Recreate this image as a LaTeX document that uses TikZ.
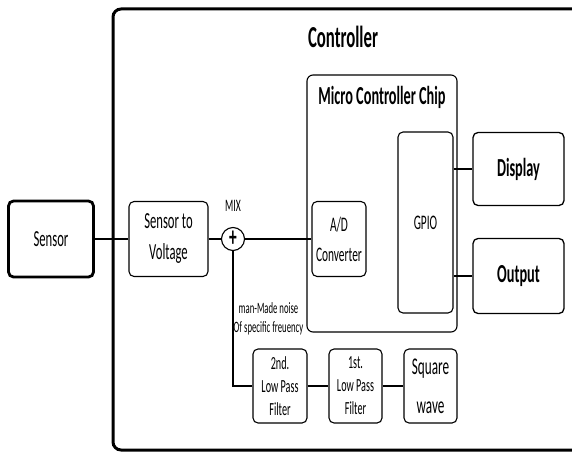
\documentclass[tikz,border=0pt]{standalone}
\usepackage{fontspec}
\setmainfont[FakeStretch=0.55]{Carlito}
\newcommand\fsz[2]{\fontsize{#1pt}{#2pt}\selectfont}
\begin{document}
\begin{tikzpicture}[x=1pt,y=-1pt,
  box/.style={draw, rounded corners=5pt, line width=1.1pt, align=center, inner sep=0pt},
  link/.style={line width=1.1pt}]
\useasboundingbox (0,0) rectangle (572,452);
\fill[white] (0,0) rectangle (572,452);
% outer controller frame (extends past the right edge)
\draw[line width=3pt, rounded corners=8pt] (113,9) rectangle (640,450);
\node[font=\bfseries\fsz{30.5}{30}] (ctl) at (343,37) {Controller};

\node[box, line width=2.8pt, minimum width=85pt, minimum height=76pt, font=\fsz{23}{30}] (sensor) at (51,239) {Sensor};
\node[box, minimum width=79pt, minimum height=75pt, font=\fsz{23}{31}] (stv) at (168.5,239) {Sensor to\\Voltage};
\node[circle, draw, line width=1.1pt, minimum size=23pt, inner sep=0pt, font=\bfseries\fsz{28}{28}] (mix) at (233,239) {+};
\node[font=\fsz{17.5}{17}] (mixl) at (233,206) {MIX};

\node[box, rounded corners=6pt, minimum width=150pt, minimum height=257pt] (chip) at (382,203.5) {};
\node[font=\bfseries\fsz{26}{26}] (chipl) at (382,97) {Micro Controller Chip};
\node[box, minimum width=54pt, minimum height=75pt, font=\fsz{20.7}{30}] (ad) at (339,239) {A/D\\Converter};
\node[box, minimum width=55pt, minimum height=181pt, font=\fsz{20.7}{20}] (gpio) at (425.5,222.5) {GPIO};
\node[box, line width=1.3pt, minimum width=91pt, minimum height=73pt, font=\bfseries\fsz{26}{26}] (disp) at (518.5,169) {Display};
\node[box, line width=1.3pt, minimum width=91pt, minimum height=75pt, font=\bfseries\fsz{26}{26}] (out) at (518.5,276) {Output};

\node[font=\fsz{15.8}{19}, align=center, inner sep=0pt] (noise) at (268.5,319) {man-Made noise\\Of specific freuency};

\node[box, minimum width=54pt, minimum height=74pt, font=\fsz{18.5}{23}] (f2) at (280,386) {2nd.\\Low Pass\\Filter};
\node[box, minimum width=53pt, minimum height=74pt, font=\fsz{18.5}{23}] (f1) at (355.5,386) {1st.\\Low Pass\\Filter};
\node[box, minimum width=53pt, minimum height=74pt, font=\fsz{24}{39}] (sq) at (430.5,386) {Square\\wave};

\draw[link] (sensor.east) -- (stv.west);
\draw[link] (stv.east) -- (mix.west);
\draw[link] (mix.east) -- (ad.west);
\draw[link] (mix.south) |- (f2.west);
\draw[link] (f2.east) -- (f1.west);
\draw[link] (f1.east) -- (sq.west);
\draw[link] (gpio.east |- disp.west) -- (disp.west);
\draw[link] (gpio.east |- out.west) -- (out.west);
\end{tikzpicture}
\end{document}
